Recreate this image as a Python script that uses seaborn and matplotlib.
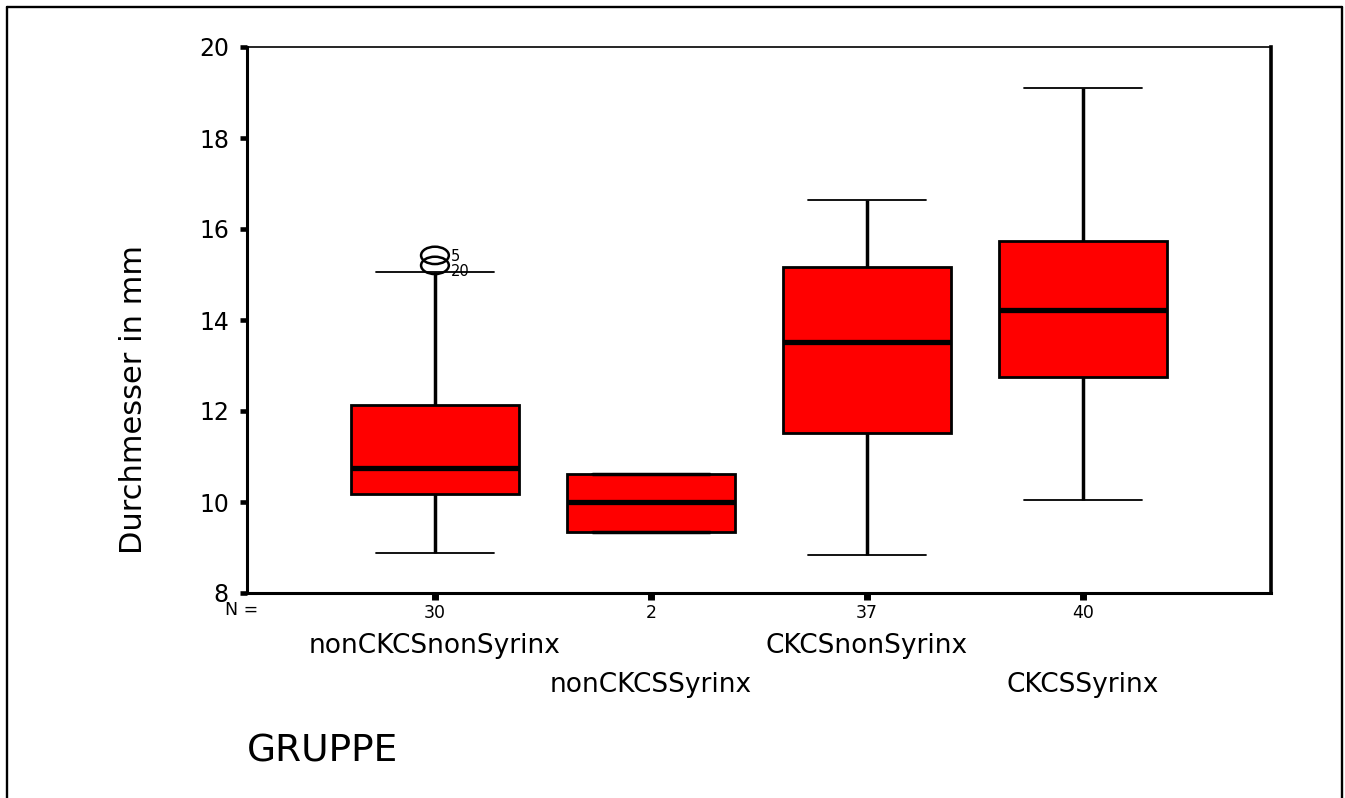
import numpy as np
import pandas as pd
import matplotlib
matplotlib.use("Agg")
import matplotlib.pyplot as plt
from matplotlib.path import Path
from matplotlib.transforms import Affine2D, blended_transform_factory
from matplotlib.lines import Line2D
import seaborn as sns

# Five-number summaries (mm) per group
groups = ["nonCKCSnonSyrinx", "nonCKCSSyrinx", "CKCSnonSyrinx", "CKCSSyrinx"]
counts = [30, 2, 37, 40]
whisker_low = [8.88, 9.34, 8.84, 10.04]
q1 = [10.18, 9.34, 11.52, 12.75]
median = [10.75, 10.00, 13.52, 14.22]
q3 = [12.13, 10.62, 15.16, 15.74]
whisker_high = [15.05, 10.62, 16.64, 19.10]

# Outlying cases
outlier_group = ["nonCKCSnonSyrinx", "nonCKCSnonSyrinx"]
outlier_value = [15.42, 15.20]
outlier_case = ["5", "20"]

y_ticks = [8, 10, 12, 14, 16, 18, 20]

sns.set_style("white")
plt.rcParams["font.family"] = ["DejaVu Sans"]
plt.rcParams["text.color"] = "black"
plt.rcParams["axes.labelcolor"] = "black"

W, H = 1345, 798


def fx(px):
    return px / W


def fy(py):
    return 1 - py / H


# Long-form table: each group described by its five summary values,
# whiskers spanning the full range (whis=(0, 100))
rows = []
for g, a, b, c, d, e in zip(groups, whisker_low, q1, median, q3, whisker_high):
    for v in (a, b, c, d, e):
        rows.append({"GRUPPE": g, "value": v})
df = pd.DataFrame(rows)

fig = plt.figure(figsize=(W / 100, H / 100), dpi=100)
ax = fig.add_axes([fx(247), fy(593), fx(1271) - fx(247), fy(47) - fy(593)])

box_width = 0.78
sns.boxplot(
    data=df, x="GRUPPE", y="value", order=groups,
    color="#ff0000", saturation=1, width=box_width, whis=(0, 100),
    linecolor="black", linewidth=2.0, showfliers=False,
    medianprops=dict(linewidth=3.8, color="black"),
    whiskerprops=dict(linewidth=2.5, color="black"),
    capprops=dict(linewidth=1.3, color="black"),
    ax=ax,
)

# widen the whisker caps
cap_width = 0.545
for ln in ax.lines:
    xd = np.asarray(ln.get_xdata(), dtype=float)
    yd = np.asarray(ln.get_ydata(), dtype=float)
    if len(xd) == 2 and yd[0] == yd[1]:
        span = abs(xd[1] - xd[0])
        if span < box_width * 0.9:
            mid = xd.mean()
            ln.set_xdata([mid - cap_width / 2, mid + cap_width / 2])

# outliers as open ellipses with case numbers
ellipse = Path.unit_circle().transformed(Affine2D().scale(1.6, 1.0))
out_x = [groups.index(g) for g in outlier_group]
sns.scatterplot(
    x=out_x, y=outlier_value, marker=ellipse, s=20 ** 2,
    facecolor="none", edgecolor="black", linewidth=1.8, ax=ax, zorder=5,
)
# case numbers sit to the right; lower ones are nudged down so they stay apart
order = np.argsort(outlier_value)[::-1]
for rank, k in enumerate(order):
    ax.annotate(outlier_case[k], xy=(out_x[k], outlier_value[k]),
                xytext=(11.5, -1 - 3.5 * rank), textcoords="offset points",
                ha="left", va="center", fontsize=10.5, color="black")

ax.set_xlim(-0.87, 3.87)
ax.set_ylim(8, 20)
ax.set_yticks(y_ticks)
ax.set_xticks(range(len(groups)))
ax.set_xticklabels([str(c) for c in counts])
ax.set_xlabel("")
ax.set_ylabel("")

for side, lw in [("left", 2.2), ("bottom", 2.2), ("right", 2.6), ("top", 1.2)]:
    ax.spines[side].set_visible(True)
    ax.spines[side].set_color("black")
    ax.spines[side].set_linewidth(lw)

ax.tick_params(axis="y", left=True, direction="out", length=5, width=3.3,
               color="black", labelsize=17, pad=8, labelcolor="black")
ax.tick_params(axis="x", bottom=True, direction="out", length=5, width=5,
               color="black", labelsize=12.5, pad=3, labelcolor="black")

# count row caption and staggered group names
fig.text(fx(225), fy(610), "N =", ha="left", va="center", fontsize=12.5,
         color="black")
trans = blended_transform_factory(ax.transData, fig.transFigure)
for i, g in enumerate(groups):
    row_y = fy(646) if i % 2 == 0 else fy(685)
    ax.text(i, row_y, g, transform=trans, ha="center", va="center",
            fontsize=19, color="black", clip_on=False)

fig.text(fx(247), fy(751), "GRUPPE", ha="left", va="center", fontsize=27,
         color="black")
fig.text(fx(133), fy(400), "Durchmesser in mm", rotation=90,
         ha="center", va="center", fontsize=22, color="black")

# outer frame (left, top, right)
frame_kw = dict(transform=fig.transFigure, color="black", linewidth=1.7)
fig.add_artist(Line2D([fx(7), fx(7)], [0, fy(7)], **frame_kw))
fig.add_artist(Line2D([fx(7), fx(1342)], [fy(7), fy(7)], **frame_kw))
fig.add_artist(Line2D([fx(1342), fx(1342)], [fy(7), 0], **frame_kw))

fig.savefig("out.png", dpi=100)
